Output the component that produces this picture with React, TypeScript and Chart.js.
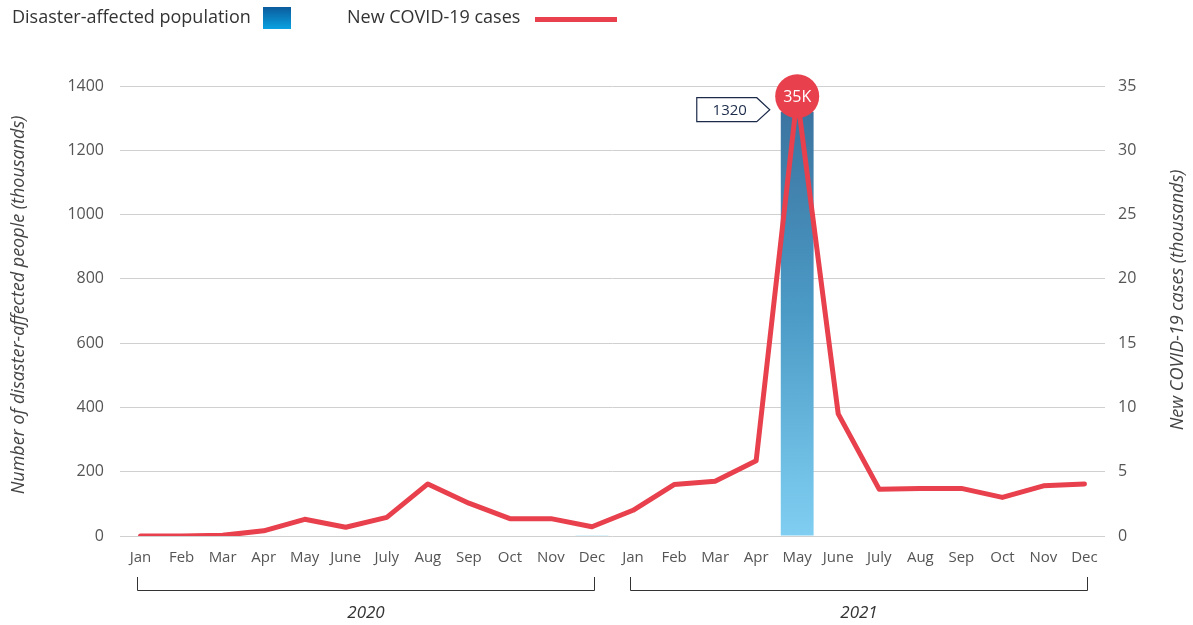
import React, { useEffect, useRef } from "react";
import { Chart, registerables } from "chart.js";

Chart.register(...registerables);

const months = ["Jan", "Feb", "Mar", "Apr", "May", "June", "July", "Aug", "Sep", "Oct", "Nov", "Dec"];
const categories = [...months, ...months];
const years = ["2020", "2021"];
const affected: (number | null)[] = [
  null, null, null, null, null, null, null, null, null, null, null, 2,
  null, null, null, null, 1320, null, null, null, null, null, null, null,
];
const covid = [
  0, 0, 0.05, 0.4, 1.3, 0.68, 1.45, 4.05, 2.55, 1.35, 1.35, 0.72,
  2.0, 4.0, 4.25, 5.85, 34.2, 9.5, 3.63, 3.7, 3.7, 3.0, 3.9, 4.05,
];
const peakLabel = "35K";
const leftMax = 1400;
const leftStep = 200;
const rightMax = 35;
const rightStep = 5;
const legendLabels = ["Disaster-affected population", "New COVID-19 cases"];
const axisTitles = ["Number of disaster-affected people (thousands)", "New COVID-19 cases (thousands)"];

const RED = "#e8404c";
const FONT = "'Open Sans', sans-serif";

export default function App() {
  const ref = useRef<HTMLCanvasElement>(null);
  useEffect(() => {
    const canvas = ref.current!;
    const ctx0 = canvas.getContext("2d")!;

    const overlay = {
      id: "overlay",
      afterDatasetsDraw(chart: any) {
        const ctx = chart.ctx;
        const barMeta = chart.getDatasetMeta(0);
        const lineMeta = chart.getDatasetMeta(1);
        let peakIdx = 0;
        covid.forEach((v, i) => { if (v > covid[peakIdx]) peakIdx = i; });
        const p = lineMeta.data[peakIdx];
        ctx.save();
        ctx.beginPath();
        ctx.arc(p.x, p.y, 22, 0, Math.PI * 2);
        ctx.fillStyle = RED;
        ctx.fill();
        ctx.fillStyle = "#fff";
        ctx.font = `16px ${FONT}`;
        ctx.textAlign = "center";
        ctx.textBaseline = "middle";
        ctx.fillText(peakLabel, p.x, p.y + 1);
        let barIdx = 0;
        affected.forEach((v, i) => { if ((v ?? 0) > (affected[barIdx] ?? 0)) barIdx = i; });
        const b = barMeta.data[barIdx];
        const tipX = b.x - b.width / 2 - 11;
        const cy = b.y - 2;
        const left = tipX - 73;
        const bodyR = tipX - 13;
        ctx.beginPath();
        ctx.moveTo(left, cy - 12);
        ctx.lineTo(bodyR, cy - 12);
        ctx.lineTo(tipX, cy);
        ctx.lineTo(bodyR, cy + 12);
        ctx.lineTo(left, cy + 12);
        ctx.closePath();
        ctx.fillStyle = "#fff";
        ctx.fill();
        ctx.strokeStyle = "#1c2b4a";
        ctx.lineWidth = 1.2;
        ctx.stroke();
        ctx.fillStyle = "#1c2b4a";
        ctx.font = `15px ${FONT}`;
        ctx.fillText(String(affected[barIdx]), (left + bodyR) / 2 + 3, cy + 1);
        ctx.restore();
      },
      afterDraw(chart: any) {
        const ctx = chart.ctx;
        const x = chart.scales.x;
        ctx.save();
        ctx.font = `18px ${FONT}`;
        ctx.fillStyle = "#333";
        ctx.textBaseline = "middle";
        ctx.textAlign = "left";
        ctx.fillText(legendLabels[0], 12, 18);
        const g = ctx.createLinearGradient(0, 7, 0, 29);
        g.addColorStop(0, "#0b5b9c");
        g.addColorStop(1, "#0aa2e2");
        ctx.fillStyle = g;
        ctx.fillRect(263, 7, 28, 22);
        ctx.fillStyle = "#333";
        ctx.fillText(legendLabels[1], 347, 18);
        ctx.strokeStyle = RED;
        ctx.lineWidth = 5;
        ctx.beginPath();
        ctx.moveTo(535, 19.5);
        ctx.lineTo(617, 19.5);
        ctx.stroke();
        ctx.font = `italic 18px ${FONT}`;
        ctx.fillStyle = "#444";
        ctx.textAlign = "center";
        ctx.save();
        ctx.translate(19, 305);
        ctx.rotate(-Math.PI / 2);
        ctx.fillText(axisTitles[0], 0, 0);
        ctx.restore();
        ctx.save();
        ctx.translate(1178, 300);
        ctx.rotate(-Math.PI / 2);
        ctx.fillText(axisTitles[1], 0, 0);
        ctx.restore();
        ctx.strokeStyle = "#333";
        ctx.lineWidth = 1;
        years.forEach((yr, i) => {
          const x0 = Math.round(x.getPixelForValue(i * 12) - 3.5) + 0.5;
          const x1 = Math.round(x.getPixelForValue(i * 12 + 11) + 3.5) - 0.5;
          ctx.beginPath();
          ctx.moveTo(x0, 577);
          ctx.lineTo(x0, 590.5);
          ctx.lineTo(x1, 590.5);
          ctx.lineTo(x1, 577);
          ctx.stroke();
          ctx.font = `italic 17px ${FONT}`;
          ctx.fillStyle = "#333";
          ctx.fillText(yr, (x0 + x1) / 2, 613);
        });
        ctx.restore();
      },
    };

    const chart = new Chart(ctx0, {
      type: "bar",
      data: {
        labels: categories,
        datasets: [
          {
            type: "bar",
            label: legendLabels[0],
            data: affected,
            yAxisID: "y",
            order: 2,
            barPercentage: 1,
            categoryPercentage: 0.8,
            backgroundColor: (c: any) => {
              const area = c.chart.chartArea;
              if (!area) return "#4a90c0";
              const gr = c.chart.ctx.createLinearGradient(0, area.top, 0, area.bottom);
              gr.addColorStop(0, "#3a6f9b");
              gr.addColorStop(0.5, "#4b9ac6");
              gr.addColorStop(1, "#80cff2");
              return gr;
            },
          } as any,
          {
            type: "line",
            label: legendLabels[1],
            data: covid,
            yAxisID: "y1",
            order: 1,
            borderColor: RED,
            borderWidth: 5,
            pointRadius: 0,
            tension: 0,
            borderJoinStyle: "round",
            borderCapStyle: "round",
          } as any,
        ],
      },
      options: {
        animation: false,
        responsive: false,
        maintainAspectRatio: false,
        layout: { padding: { top: 86, left: 0, right: 0, bottom: 0 } },
        plugins: { legend: { display: false }, tooltip: { enabled: false } },
        scales: {
          x: {
            offset: true,
            grid: { display: false, drawTicks: false },
            border: { display: false },
            ticks: { color: "#555", font: { family: FONT, size: 15 }, padding: 13, maxRotation: 0, autoSkip: false },
            afterFit: (s: any) => { s.height = 89; },
          },
          y: {
            position: "left",
            min: 0,
            max: leftMax,
            grid: { color: "#d0d0d0", drawTicks: false },
            border: { display: false },
            ticks: { stepSize: leftStep, color: "#555", font: { family: FONT, size: 16 }, padding: 16, callback: (v: any) => String(v) },
            afterFit: (s: any) => { s.width = 120; },
          },
          y1: {
            position: "right",
            min: 0,
            max: rightMax,
            grid: { display: false, drawTicks: false },
            border: { display: false },
            ticks: { stepSize: rightStep, color: "#555", font: { family: FONT, size: 16 }, padding: 13, callback: (v: any) => String(v) },
            afterFit: (s: any) => { s.width = 88; },
          },
        },
      } as any,
      plugins: [overlay],
    });
    return () => chart.destroy();
  }, []);
  return (
    <div style={{ position: "fixed", left: 0, top: 0, width: 1193, height: 625, background: "#fff" }}>
      <canvas ref={ref} width={1193} height={625} style={{ width: 1193, height: 625, display: "block" }} />
    </div>
  );
}
